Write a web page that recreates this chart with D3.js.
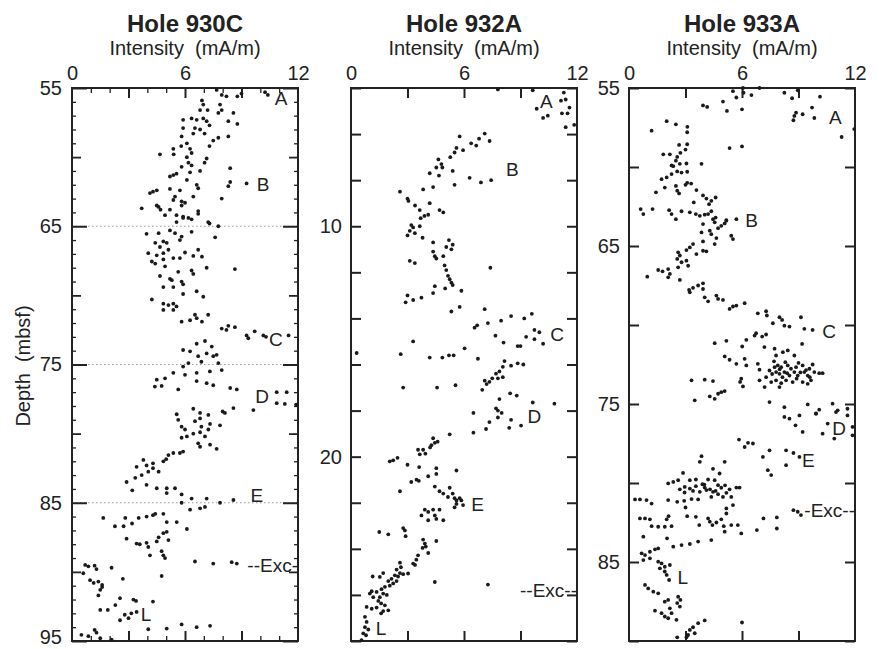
<!DOCTYPE html>
<html><head><meta charset="utf-8">
<script src="https://cdn.jsdelivr.net/npm/d3@7"></script>
<style>
body{margin:0;background:#fff}
text{font-family:"Liberation Sans",Arial,Helvetica,sans-serif;fill:#222}
</style>
</head><body><svg id="chart" width="879" height="649"></svg>
<script>
// ---- data: [intensity (mA/m), depth (mbsf)] ----
const hole930C = [[7.68,55.14],[7.95,55.5],[8.2,55.6],[8.78,55.6],[9.0,55.4],[10.25,55.3],[10.4,55.5],[6.9,55.9],[6.97,56.2],[7.2,56.6],[7.86,56.2],[7.95,56.6],[7.77,56.8],[6.8,56.6],[8.57,56.8],[6.35,57.2],[5.9,57.3],[6.62,57.3],[6.97,57.2],[7.15,57.4],[7.3,57.7],[8.3,57.4],[8.78,57.6],[5.9,57.9],[6.53,57.9],[6.8,58.0],[6.44,58.3],[5.82,58.5],[7.04,58.3],[7.77,58.6],[7.5,58.8],[8.3,58.5],[7.3,59.2],[5.38,59.4],[5.8,59.2],[6.1,59.0],[6.27,59.4],[4.67,59.8],[5.4,59.8],[6.35,59.7],[6.1,60.0],[7.15,60.1],[6.18,60.4],[6.35,60.6],[5.82,60.7],[7.04,60.4],[6.8,61.0],[8.4,60.8],[5.38,61.3],[5.2,61.4],[5.55,61.2],[6.27,61.1],[6.1,61.65],[6.62,62.0],[6.7,62.25],[8.4,61.8],[8.3,62.1],[9.27,61.9],[4.14,62.6],[4.3,62.5],[4.5,62.4],[5.2,62.3],[5.73,62.4],[5.38,63.1],[5.47,62.85],[5.82,63.2],[6.0,63.3],[6.44,62.85],[7.95,63.0],[3.7,63.7],[4.6,63.6],[4.7,63.8],[5.2,63.8],[5.55,64.2],[5.9,64.3],[6.7,63.9],[6.18,64.4],
[4.5,63.5],[5.82,63.5],[4.94,64.2],[5.9,64.4],[6.35,64.5],[6.7,64.1],[5.55,64.7],[5.2,65.3],[7.23,64.7],[7.3,64.8],[7.77,65.0],[3.96,65.55],[4.6,65.5],[5.47,65.5],[5.82,65.75],[5.73,66.0],[6.35,65.4],[7.6,65.8],[4.42,66.2],[4.85,66.1],[5.03,66.2],[4.67,66.5],[5.12,66.7],[6.0,66.9],[6.7,66.7],[4.05,66.95],[4.5,67.1],[4.85,66.95],[5.38,67.3],[5.73,67.3],[6.44,67.15],[6.9,67.2],[4.24,67.55],[4.42,67.7],[4.85,67.4],[4.94,67.9],[7.15,68.0],[8.65,68.1],[5.64,68.3],[6.35,68.2],[6.44,68.45],[4.67,68.6],[5.2,68.8],[5.3,68.9],[5.82,69.0],[4.85,69.4],[5.38,69.4],[5.9,69.2],[6.62,69.7],[4.24,70.3],[6.97,70.1],[5.9,69.9],[4.85,70.6],[5.12,70.7],[5.38,70.6],[5.55,70.8],[4.85,71.05],[5.38,71.05],[6.53,71.4],[7.23,71.4],[5.82,71.9],[6.27,71.8],[6.9,71.9],[6.62,71.65],[7.95,72.4],[8.3,72.2],[8.65,72.3],[8.2,72.5],[9.27,72.9],[9.36,73.1],[9.7,72.6],[10.16,72.9],[10.3,73.0],[11.5,72.9],[5.9,73.95],[6.62,73.5],[7.06,73.3],[7.42,73.7],[6.27,74.05],[6.7,74.4],[7.15,74.2],[7.5,74.4],[7.68,74.3],[6.87,74.8],[7.77,74.9],[5.9,75.15],[6.18,74.9],[6.0,75.75],[5.38,75.6],[6.62,75.6],[7.32,75.5],[7.95,75.4],[4.5,76.1],[4.94,76.0],[4.4,76.6],[4.76,76.55],[6.62,76.2],[7.15,76.35],[7.5,76.5],[5.64,76.8],[8.4,76.7],[8.75,76.8],[10.87,77.0],[11.4,77.0],[10.87,77.8],[11.3,77.85],[11.9,77.9],[6.44,78.2],[6.8,78.5],[8.0,78.4],[8.57,78.15],[9.63,78.3],[5.56,78.6],
[5.64,79.0],[5.82,79.5],[6.0,79.7],[5.82,80.3],[6.1,80.2],[6.53,79.1],[6.8,78.9],[6.87,79.5],[7.24,78.65],[7.33,79.3],[6.44,80.0],[6.8,79.9],[7.24,79.7],[7.06,80.2],[6.7,80.7],[6.8,80.95],[7.33,80.8],[7.68,81.1],[7.86,79.4],[8.12,78.5],[5.12,81.55],[5.38,81.4],[5.73,81.4],[5.9,81.3],[4.85,82.0],[5.0,81.85],[3.79,81.9],[3.43,82.4],[3.96,82.3],[4.3,82.15],[2.9,83.5],[3.36,83.2],[3.7,83.0],[4.05,82.75],[4.3,82.5],[4.6,82.75],[3.2,84.1],[3.96,83.7],[4.5,83.95],[5.03,83.95],[5.47,83.95],[5.03,84.3],[5.82,84.4],[6.35,84.7],[5.82,85.0],[6.27,85.5],[6.8,85.4],[7.06,85.3],[7.15,84.7],[7.86,85.0],[8.57,84.8],[1.66,86.1],[2.28,86.7],[2.83,86.1],[2.74,86.7],[3.19,86.5],[3.54,86.1],[3.96,86.0],[4.3,85.9],[4.42,85.8],[4.85,85.8],[5.03,86.4],[5.56,86.4],[6.1,86.9],[2.9,87.6],[3.43,87.95],[3.6,88.0],[3.96,87.9],[4.05,88.2],[4.14,88.8],[4.6,87.5],[4.5,87.8],[4.85,87.2],[5.03,87.1],[5.12,87.7],[4.76,88.5],[4.85,88.8],[4.94,89.0],[4.76,90.3],[6.53,89.25],[7.5,89.4],[8.48,89.3],[8.75,89.4],[0.7,89.5],[0.87,89.6],[1.2,89.55],[1.3,89.8],[0.6,90.1],[0.96,90.6],[1.15,90.8],[1.4,90.7],[1.6,90.95],[1.5,91.3],[1.6,91.1],[1.4,91.7],[2.1,89.7],[2.7,90.5],[1.5,92.75],[1.9,92.75],[2.3,92.4],[2.55,91.9],[3.26,92.0],[3.4,92.1],[4.3,92.15],[2.8,93.1],[3.0,93.35],[3.15,93.0],[3.43,92.9],[2.55,93.5],[4.05,94.15],[5.03,94.1],[5.82,93.8],[6.62,94.0],[7.33,93.9],[0.5,94.55],[0.87,94.65],[1.2,94.2],[1.3,94.4],[1.5,94.8],[2.1,94.9]];

const hole932A = [[7.8,4.06],[9.65,4.1],[11.3,4.2],[11.4,4.5],[11.15,4.55],[9.86,4.9],[10.2,5.3],[10.45,5.2],[11.6,4.85],[11.2,5.1],[11.5,5.1],[11.4,5.7],[11.85,5.6],[5.77,6.1],[7.1,5.98],[6.8,6.2],[7.36,6.3],[6.38,6.4],[6.65,6.5],[5.6,6.6],[5.95,6.7],[5.5,6.8],[5.27,7.0],[4.64,7.1],[4.8,7.3],[4.53,7.45],[4.85,7.45],[4.18,7.7],[4.67,7.8],[5.4,7.6],[5.5,8.2],[6.3,7.9],[6.9,8.1],[7.44,8.0],[2.6,8.5],[3.0,8.8],[3.05,8.9],[3.83,8.4],[4.36,8.3],[3.4,9.1],[3.65,9.3],[4.18,9.0],[4.7,9.3],[4.9,9.4],[4.1,9.5],
[3.9,9.55],[3.7,9.65],[3.2,9.95],[3.3,10.05],[3.12,10.2],[3.39,10.3],[3.0,10.4],[3.65,10.0],[3.8,10.5],[4.36,10.7],[5.06,10.9],[5.2,10.6],[5.33,11.0],[5.4,10.8],[4.36,11.1],[4.45,11.3],[4.53,11.4],[4.9,11.3],[3.12,11.5],[3.39,11.6],[4.97,11.7],[5.06,11.9],[5.15,12.15],[5.24,12.3],[5.33,12.45],[5.4,12.55],[7.4,11.8],[4.45,12.6],[4.36,12.9],[5.0,12.7],[5.86,12.8],[3.0,13.0],[2.9,13.3],[3.3,13.2],[3.74,13.1],[5.33,13.7],[5.77,13.5],[7.1,13.6],[6.56,14.4],[6.7,14.3],[7.27,14.2],[7.97,14.1],[8.5,13.9],[9.2,14.0],[9.6,13.8],[7.67,14.75],[8.1,15.05],[8.85,15.2],[9.0,15.2],[9.3,14.8],[9.74,14.5],[9.74,14.9],[10.0,14.6],[10.2,15.1],[3.3,15.0],[0.3,15.5],[2.64,15.55],[4.18,15.7],[4.85,15.7],[5.2,15.6],[5.45,15.6],[6.03,15.3],[6.74,15.75],[8.15,15.85],[8.5,16.05],[8.85,15.95],[9.15,16.0],[8.06,16.1],[7.88,16.3],[7.7,16.4],[7.5,16.6],[7.1,16.7],[7.2,16.85],[7.35,16.75],[7.8,16.6],[8.06,16.55],[6.97,17.1],[2.77,17.0],[4.57,17.0],[5.55,16.9],[8.45,17.25],[8.8,17.35],[7.88,17.5],[7.7,17.9],[7.8,18.0],[8.0,18.1],[9.65,17.65],[10.8,17.7],[6.5,18.1],[8.5,18.4],
[7.8,18.3],[7.35,18.5],[7.17,18.8],[6.5,18.96],[8.4,18.75],[9.03,18.65],[5.24,19.03],[4.36,19.2],[4.45,19.4],[4.27,19.5],[4.6,19.35],[4.2,19.6],[3.56,19.7],[3.83,19.7],[3.65,19.9],[3.95,19.87],[2.06,20.2],[2.24,20.16],[2.47,20.05],[3.0,20.35],[3.62,20.45],[4.53,20.5],[5.6,20.6],[3.48,21.0],[3.2,21.1],[3.6,21.05],[4.1,20.85],[4.53,20.75],[4.45,21.3],[2.6,21.5],[4.7,21.5],[4.9,21.6],[5.15,21.75],[5.24,21.35],[5.4,21.6],[5.5,21.8],[5.6,21.9],[5.77,21.8],[5.86,21.9],[5.95,22.1],[5.5,22.2],[5.6,22.05],[3.92,22.3],[4.1,22.4],[4.36,22.3],[4.7,22.3],[3.74,22.55],[4.1,22.76],[4.45,22.55],[4.53,22.7],[4.9,22.76],[1.5,23.27],[1.98,23.37],[2.77,23.1],[2.86,23.2],[2.9,23.45],[3.83,23.6],[3.92,23.77],[3.97,23.9],[3.8,23.96],[4.1,24.18],[4.53,23.66],[3.56,24.28],[3.47,24.47],[3.3,24.64],[3.4,24.7],[2.6,24.6],[2.65,24.8],[2.42,24.9],[2.33,25.15],[2.5,25.2],[2.77,25.1],[3.03,25.07],[2.15,25.3],[1.98,25.4],[1.71,25.05],[1.53,25.22],[1.15,25.2],[2.6,25.05],[2.42,25.4],[2.24,25.5],[2.06,25.6],[1.8,25.65],[1.62,25.75],[1.1,25.84],[1.0,25.94],[1.36,25.87],[1.71,25.94],[1.18,26.1],[1.53,26.1],[1.9,26.0],[1.45,26.26],[1.6,26.37],[1.8,26.45],[1.36,26.55],[0.83,26.52],[1.1,26.6],[1.71,26.7],[1.98,26.67],[1.6,26.8],[4.45,25.44],[7.27,25.55],[0.74,26.95],[0.83,27.17],[0.74,27.4],[0.92,27.5],[0.65,27.67],[0.8,27.75],[0.56,27.96]];

const hole933A = [[5.52,55.2],[5.7,55.6],[6.05,55.0],[6.08,55.3],[6.5,55.45],[6.93,55.0],[8.25,55.3],[8.66,55.65],[8.96,55.15],[10.14,55.55],[3.93,56.1],[4.15,56.2],[4.99,55.86],[5.2,56.45],[6.0,56.35],[8.87,56.56],[8.78,56.77],[9.22,56.66],[9.72,56.24],[9.84,56.9],[8.73,57.04],[11.96,57.6],[11.29,58.1],[1.2,57.7],[2.0,57.1],[2.49,57.3],[3.1,57.46],[3.09,57.8],[2.66,58.6],[3.09,58.56],[5.34,58.8],[6.0,58.7],[1.82,59.2],[2.17,59.2],[2.56,59.36],[2.73,59.1],[3.0,58.9],[2.49,59.6],[2.26,59.9],[2.35,59.95],[2.7,59.8],[3.05,59.78],[3.09,60.3],[3.85,59.8],[1.73,60.77],[2.0,60.66],[2.26,60.45],[2.56,60.28],[2.79,60.35],[2.49,61.2],[2.56,61.5],[3.0,61.13],[3.09,61.0],[3.3,61.05],[1.43,61.6],[1.9,61.3],[2.66,61.67],[3.58,61.46],[3.93,61.8],[4.11,62.0],[4.25,62.35],[4.37,62.14],[4.6,61.93],[3.44,62.24],[0.62,62.66],[0.76,62.98],[1.25,62.66],[2.13,62.73],[2.26,62.98],[2.79,62.8],[3.23,62.87],[3.55,62.98],[4.02,63.02],[4.37,62.8],[4.6,63.2],[5.17,63.36],[5.7,63.3],
[2.49,63.3],[3.76,63.09],[4.2,62.98],[4.46,63.3],[3.93,63.61],[4.55,63.5],[4.73,63.87],[4.9,63.72],[5.08,63.57],[5.17,63.4],[3.85,64.14],[4.29,64.03],[4.37,64.25],[4.64,64.5],[5.43,64.35],[5.52,64.56],[3.93,64.71],[4.55,64.88],[3.4,64.88],[3.23,65.09],[3.05,65.26],[3.58,65.51],[3.93,65.3],[4.11,65.34],[2.61,65.4],[2.7,65.6],[2.56,65.82],[2.79,66.03],[3.05,65.93],[3.14,66.25],[2.61,66.35],[1.55,66.52],[1.78,66.6],[2.08,66.46],[2.17,66.77],[2.08,66.98],[0.97,66.94],[2.7,67.15],[3.19,67.78],[3.4,67.65],[3.67,67.5],[3.93,67.36],[3.93,67.72],[3.23,67.93],[4.02,68.25],[4.2,68.5],[4.64,68.14],[4.73,68.35],[4.99,68.41],[5.34,68.98],[5.52,68.83],[5.7,68.77],[6.14,68.62],[6.84,69.26],[7.28,69.13],[7.32,69.4],[7.64,69.89],[7.99,69.51],[8.13,69.68],[8.25,70.04],[8.52,70.1],[9.13,69.51],[9.31,70.24],[9.75,70.31],[4.55,71.15],[5.17,71.0],[6.01,71.36],[6.23,70.94],[6.67,70.67],[6.75,70.52],[7.07,70.73],[7.28,70.6],[7.19,71.4],[7.73,71.5],[7.81,71.93],[8.17,71.72],[8.43,71.61],[8.78,71.93],[9.19,71.2],[5.08,71.99],[5.34,72.2],[5.7,72.46],[6.23,72.56],[6.14,72.14],[6.84,72.46],[6.93,72.83],[7.46,72.88],[7.73,72.67],[7.81,72.98],[7.9,72.56],[8.0,72.8],[7.99,73.09],[8.08,72.67],[8.25,72.98],[8.43,72.56],[8.52,73.2],[8.6,72.77],[8.78,72.98],[8.87,72.67],[8.96,73.2],[9.22,72.56],[9.31,72.98],[9.49,73.2],[9.58,72.77],[9.75,72.5],[9.84,72.98],[10.1,73.05],[10.28,73.05],[9.66,73.5],[9.49,73.72],[9.22,73.61],[8.69,73.61],[8.34,73.5],[8.08,73.68],[7.81,73.5],[7.55,73.61],[7.99,73.93],[7.28,73.3],[7.2,73.93],[6.93,73.5],[5.96,73.4],[6.05,73.89],[5.9,73.6],[3.32,73.5],[4.02,73.46],[4.46,73.55],[3.49,74.77],[4.29,74.52],[4.55,74.67],[4.73,74.35],[5.08,74.18],[4.9,74.25],[7.46,74.88],[8.25,75.2],[9.49,75.03],[9.93,75.6],[10.81,74.98],[11.08,75.4],[11.6,75.3],[10.1,75.36],[7.6,73.1],[8.15,73.3],[8.4,73.05],[8.9,73.4],[9.1,73.0],[9.4,72.85],[9.0,72.4],[8.3,72.35],[7.7,72.3],[9.6,73.3],
[8.25,75.82],[8.52,75.93],[9.05,75.72],[8.84,76.35],[9.22,76.77],[9.93,75.61],[10.28,76.88],[10.55,76.24],[10.9,77.19],[10.99,75.51],[11.6,75.72],[11.87,76.45],[11.87,76.98],[5.84,77.25],[6.14,77.72],[6.32,77.46],[6.58,77.5],[7.11,78.35],[7.46,77.93],[7.37,79.19],[7.55,79.5],[8.34,77.93],[8.34,78.87],[8.73,78.1],[9.05,78.35],[3.85,78.3],[3.76,78.66],[5.08,78.66],[4.46,79.1],[4.81,79.4],[2.87,79.36],[3.23,79.82],[3.55,79.78],[2.08,80.03],[2.35,79.93],[2.61,79.82],[2.7,80.4],[2.96,80.25],[3.23,80.35],[3.55,80.2],[3.9,80.08],[4.02,80.29],[4.2,79.78],[4.55,79.82],[4.73,80.14],[4.46,80.56],[4.73,80.71],[4.99,80.88],[5.17,80.62],[5.34,80.4],[5.7,80.29],[5.87,80.29],[5.43,80.88],[4.37,80.88],[4.11,80.45],[3.76,80.56],[3.67,81.04],[3.32,81.02],[2.93,81.13],[2.56,81.19],[2.08,81.08],[0.32,81.04],[0.58,81.04],[0.93,81.08],[1.2,81.3],[3.0,81.55],[5.17,81.61],[5.52,81.4],[5.17,81.93],[0.58,82.24],[0.85,82.24],[1.11,82.3],[1.2,82.73],[2.1,82.1],[2.0,82.3],[1.55,82.77],[1.9,82.77],[2.26,82.73],[3.09,82.1],[3.55,82.14],[3.73,82.66],[4.2,82.24],[4.29,82.45],[4.43,82.66],[4.64,82.5],[4.9,82.3],[5.03,82.73],[5.08,83.08],[5.43,82.66],[5.78,82.66],[5.96,83.19],[6.79,82.98],[7.14,82.24],[7.85,82.18],[7.85,82.88],[8.73,81.72],[8.96,81.82],[9.13,82.03],[0.76,83.4],[2.02,83.5],[2.35,84.03],[2.79,83.93],[3.23,83.86],[3.67,83.71],[4.37,83.61],[0.67,84.45],[0.85,84.56],[1.11,84.35],[1.38,84.2],[1.55,84.14],[0.76,84.88],[1.11,84.77],[1.55,84.98],[1.73,85.09],[1.64,85.4],[1.9,85.3],[2.17,85.19],[1.9,85.6],[2.0,85.82],[2.13,86.14],[0.85,86.45],[1.02,86.67],[1.29,86.88],[1.55,86.98],[1.9,87.51],[1.38,88.08],[1.73,88.24],[1.9,88.45],[2.26,88.24],[2.17,87.93],[2.08,88.56],[2.52,88.66],[2.08,87.4],[2.61,87.2],[2.73,87.4],[2.56,87.6],[2.7,87.82],[3.23,89.3],[3.14,89.62],[3.05,89.77],[2.56,89.77],[3.4,89.13],[3.67,88.87],[4.02,88.7],[3.49,89.51],[6.0,88.83],[4.0,80.1],[4.3,80.4],[4.6,80.5],[4.9,80.3],[5.1,80.15],[3.4,80.5],[2.95,80.6]];

const titles = ["Hole 930C", "Hole 932A", "Hole 933A"];
const intensityDomain = [0, 12];
const intensityTickLabels = [0, 6, 12];
const intensityMajorTicks = [3, 6, 9];
const depthDomains = [[55, 95], [4, 28], [55, 90]];
const depthTickLabels = [[55, 65, 75, 85, 95], [10, 20], [55, 65, 75, 85]];
const depthTickStep = [5, 2, 5];
const gridDepths930C = [65, 75, 85];
const labels930C = [["A",11.1,55.72],["B",10.14,61.94],["C",10.83,73.16],["D",10.09,77.28],["E",9.82,84.44],["L",3.93,93.05],["--Exc-",12,89.5]];
const labels932A = [["A",10.37,4.56],["B",8.57,7.55],["C",10.95,14.7],["D",9.74,18.25],["E",6.72,22.07],["L",1.59,27.44],["--Exc--",12,25.8]];
const labels933A = [["A",10.95,56.83],["B",6.51,63.4],["C",10.63,70.41],["D",11.16,76.54],["E",9.52,78.56],["L",2.86,85.95],["-Exc--",12,81.72]];

const datasets = [hole930C, hole932A, hole933A];
const labelSets = [labels930C, labels932A, labels933A];

// ---- layout ----
const svg = d3.select("#chart");
const panelLeft = [72, 351, 629];
const W = 226, TOP = 88, H = 553;
const ink = "#222";

function styleAxis(sel, sw) {
  sel.select(".domain").remove();
  sel.selectAll(".tick line").attr("stroke", ink).attr("stroke-width", sw);
  sel.selectAll(".tick text").attr("fill", ink).style("font-size", "20px")
     .style("font-family", '"Liberation Sans",Arial,sans-serif');
}

datasets.forEach((data, i) => {
  const g = svg.append("g").attr("transform", `translate(${panelLeft[i]},${TOP})`);
  const x = d3.scaleLinear().domain(intensityDomain).range([0, W]);
  const y = d3.scaleLinear().domain(depthDomains[i]).range([0, H]);
  const [d0, d1] = depthDomains[i];

  // dotted reference lines (930C only)
  if (i === 0) {
    g.selectAll("line.grid").data(gridDepths930C).join("line")
      .attr("x1", x(0)).attr("x2", x(12))
      .attr("y1", d => y(d)).attr("y2", d => y(d))
      .attr("stroke", "#999").attr("stroke-width", 1.2).attr("stroke-dasharray", "1.5,2.5");
  }

  // depth ticks
  const stepTicks = d3.range(Math.ceil(d0 / depthTickStep[i]) * depthTickStep[i], d1 + 0.001, depthTickStep[i]);
  if (i === 0) {
    const minor = d3.range(d0, d1 + 0.001, 1).filter(v => v % 5 !== 0);
    const medium = stepTicks.filter(v => !depthTickLabels[0].includes(v));
    const major = depthTickLabels[0];
    [[minor, 4, 1.3], [medium, 9, 1.8], [major, 15, 2]].forEach(([vals, len, sw]) => {
      g.append("g").call(d3.axisLeft(y).tickValues(vals).tickSize(-len).tickFormat("")).call(s => styleAxis(s, sw));
      g.append("g").attr("transform", `translate(${W},0)`)
        .call(d3.axisRight(y).tickValues(vals).tickSize(-len).tickFormat("")).call(s => styleAxis(s, sw));
    });
    g.append("g").call(d3.axisLeft(y).tickValues(major).tickSize(0).tickPadding(10).tickFormat(d3.format("d")))
      .call(s => styleAxis(s, 0))
      .call(s => s.selectAll(".tick text").filter(d => d === d1).attr("dy", "0.1em"));
  } else {
    g.append("g").call(d3.axisLeft(y).tickValues(stepTicks).tickSize(-10).tickPadding(9)
      .tickFormat(d => depthTickLabels[i].includes(d) ? d : "")).call(s => styleAxis(s, 2));
    g.append("g").attr("transform", `translate(${W},0)`)
      .call(d3.axisRight(y).tickValues(stepTicks).tickSize(-10).tickFormat("")).call(s => styleAxis(s, 2));
  }

  // intensity ticks
  if (i === 0) {
    const minorX = d3.range(1, 12, 1).filter(v => v % 3 !== 0);
    g.append("g").call(d3.axisTop(x).tickValues(minorX).tickSize(-5).tickFormat("")).call(s => styleAxis(s, 1.3));
    g.append("g").attr("transform", `translate(0,${H})`)
      .call(d3.axisBottom(x).tickValues(minorX).tickSize(-5).tickFormat("")).call(s => styleAxis(s, 1.3));
  }
  g.append("g").call(d3.axisTop(x).tickValues(intensityMajorTicks).tickSize(-10).tickFormat("")).call(s => styleAxis(s, 2));
  g.append("g").attr("transform", `translate(0,${H})`)
    .call(d3.axisBottom(x).tickValues(intensityMajorTicks).tickSize(-10).tickFormat("")).call(s => styleAxis(s, 2));
  g.append("g").call(d3.axisTop(x).tickValues(intensityTickLabels).tickSize(0).tickPadding(8).tickFormat(d3.format("d")))
    .call(s => styleAxis(s, 0));

  // frame
  g.append("rect").attr("x", x(0)).attr("y", y(d0)).attr("width", x(12) - x(0)).attr("height", y(d1) - y(d0))
    .attr("fill", "none").attr("stroke", ink).attr("stroke-width", 2);

  // dots
  g.selectAll("circle.pt").data(data).join("circle")
    .attr("cx", d => x(d[0])).attr("cy", d => y(d[1])).attr("r", 1.9).attr("fill", "#1a1a1a");

  // annotations
  g.selectAll("text.ann").data(labelSets[i]).join("text")
    .attr("x", d => x(d[1])).attr("y", d => y(d[2]))
    .attr("text-anchor", d => d[0].includes("Exc") ? "end" : "middle")
    .attr("dy", "0.35em").style("font-size", "19px").text(d => d[0]);

  // titles
  g.append("text").attr("x", W / 2).attr("y", 32 - TOP).attr("text-anchor", "middle")
    .style("font-size", "24px").style("font-weight", "bold").text(titles[i]);
  g.append("text").attr("x", W / 2).attr("y", 55 - TOP).attr("text-anchor", "middle")
    .style("font-size", "20px").attr("xml:space", "preserve").style("white-space", "pre").text("Intensity  (mA/m)");
});

svg.append("text").attr("transform", "translate(30,366) rotate(-90)").attr("text-anchor", "middle")
  .style("font-size", "20px").style("white-space", "pre").text("Depth  (mbsf)");
</script>
</body></html>
